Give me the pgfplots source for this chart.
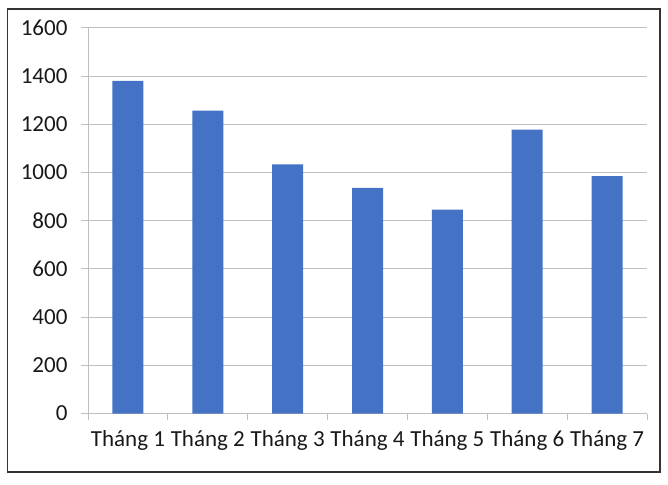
\documentclass[border=0pt]{standalone}
\usepackage{fontspec}
\setmainfont{Carlito}
\usepackage{pgfplots}
\pgfplotsset{compat=1.18}
\definecolor{barblue}{RGB}{68,114,196}
\definecolor{gridgray}{RGB}{190,190,190}
\definecolor{txt}{RGB}{25,25,25}
\begin{document}
\begin{tikzpicture}[x=1pt,y=1pt]
\useasboundingbox (0,0) rectangle (668,484);
\draw[black!80, line width=1.3pt] (7.5,12) rectangle (660,475);
\begin{axis}[
  at={(88pt,70.4pt)}, anchor=south west,
  scale only axis, width=559pt, height=385.6pt,
  xmin=0.5, xmax=7.5, ymin=0, ymax=1600,
  ybar, bar width=31pt,
  axis x line*=bottom, axis y line*=left,
  axis line style={gridgray, line width=1pt},
  tick align=outside,
  major tick length=7pt, minor tick length=6pt,
  xtick={1,...,7},
  xticklabels={Tháng 1,Tháng 2,Tháng 3,Tháng 4,Tháng 5,Tháng 6,Tháng 7},
  minor xtick={0.5,1.5,...,7.5},
  tick style={gridgray, line width=1pt},
  major x tick style={opacity=0},
  ytick={0,200,...,1600},
  ymajorgrids, grid style={gridgray, line width=1pt},
  /pgf/number format/assume math mode=true,
  /pgf/number format/1000 sep={},
  ticklabel style={font=\fontsize{23}{27}\selectfont, text=txt},
  yticklabel style={xshift=-10pt},
  xticklabel style={yshift=-6pt},
]
\addplot[fill=barblue, draw=none] coordinates {
  (1,1381) (2,1257) (3,1034) (4,937) (5,846) (6,1178) (7,985)
};
\end{axis}
\end{tikzpicture}
\end{document}
